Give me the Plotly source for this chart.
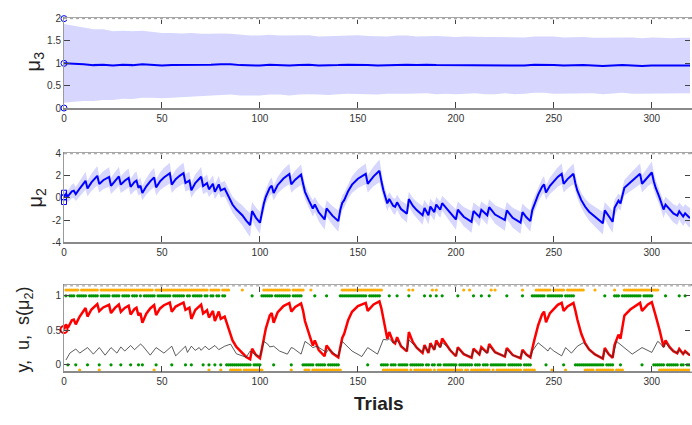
import plotly.graph_objects as go
import numpy as np

# ---------------- data ----------------
x_ticks = [0, 50, 100, 150, 200, 250, 300]

# inputs u (green) and responses y (orange), trials 1..320
u_str = ("1011101111" "1011111011" "1110111101" "1110111010" "1111110111"
         "1111011111" "1011011111" "0110110110" "1100000000" "0000010000"
         "1111110111" "1111101111" "1000000100" "0001000000" "1111111111"
         "1111011111" "1000010001" "0000010000" "0001001001" "0010000000"
         "1000000010" "0010001000" "0000010000" "0001000011" "1111101111"
         "1111011111" "0000000000" "0000010000" "1110111111" "1111011111"
         "0000001000" "0001001000")
y_str = ("1111111011" "1111111011" "1111111111" "1111111111" "1111101111"
         "1111111111" "1111111111" "1110111110" "1111000000" "1000000000"
         "0111111111" "1111101111" "1100010000" "0000000000" "0111111111"
         "1111111111" "1100000000" "0000010100" "0000000101" "0000000000"
         "0001001000" "0000000101" "0000000000" "0001000000" "1111111101"
         "1111101111" "1111100000" "1000000000" "1000011111" "1111111111"
         "1110000000" "0000000000")
u_vals = [int(c) for c in u_str]
y_vals = [int(c) for c in y_str]
trials = list(range(1, len(u_vals) + 1))
assert len(u_vals) == 320 and len(y_vals) == 320

# mu3 trajectory
mu3_trial = [0, 2, 5, 10, 15, 20, 25, 30, 35, 40, 45, 50, 55, 60, 65, 70, 75, 80, 85, 90,
             95, 100, 105, 110, 115, 120, 125, 130, 135, 140, 145, 150, 155, 160, 165,
             170, 175, 180, 185, 190, 195, 200, 205, 210, 215, 220, 225, 230, 235, 240,
             245, 250, 255, 260, 265, 270, 275, 280, 285, 290, 295, 300, 305, 310, 315, 320]
mu3_mean = [1.0, 1.0, 0.99, 0.98, 0.96, 0.97, 0.95, 0.97, 0.96, 0.98, 0.97, 0.95, 0.96, 0.96,
            0.97, 0.96, 0.97, 0.98, 0.98, 0.96, 0.95, 0.95, 0.97, 0.96, 0.95, 0.96, 0.97, 0.95,
            0.95, 0.96, 0.97, 0.97, 0.96, 0.95, 0.96, 0.97, 0.97, 0.96, 0.97, 0.96, 0.96, 0.95,
            0.96, 0.96, 0.95, 0.95, 0.96, 0.95, 0.95, 0.97, 0.97, 0.96, 0.95, 0.96, 0.96, 0.95,
            0.94, 0.95, 0.96, 0.95, 0.94, 0.95, 0.95, 0.94, 0.95, 0.95]
mu3_sd = [0.88, 0.87, 0.85, 0.82, 0.80, 0.79, 0.77, 0.76, 0.76, 0.75, 0.74, 0.73, 0.72, 0.71,
          0.71, 0.70, 0.69, 0.69, 0.68, 0.68, 0.67, 0.67, 0.67, 0.66, 0.67, 0.66, 0.66, 0.65,
          0.66, 0.65, 0.65, 0.66, 0.65, 0.65, 0.64, 0.65, 0.65, 0.64, 0.64, 0.65, 0.64, 0.64,
          0.64, 0.63, 0.64, 0.64, 0.63, 0.64, 0.63, 0.63, 0.63, 0.64, 0.63, 0.63, 0.63, 0.62,
          0.63, 0.63, 0.62, 0.63, 0.62, 0.63, 0.62, 0.62, 0.62, 0.62]
mu3_prior = [0, 1.0, 1.0]  # trial, mean, sd

# mu2 trajectory
mu2_trial = [0, 1, 2, 4, 5, 6, 8, 10, 11, 12, 14, 17, 18, 20, 23, 24, 26, 28, 29, 31, 33, 34,
             36, 37, 38, 39, 40, 42, 44, 46, 47, 49, 51, 54, 55, 57, 59, 61, 62, 64, 65, 67, 70,
             71, 73, 74, 76, 77, 79, 80, 82, 84, 86, 88, 91, 93, 95, 96, 98, 100, 101, 102,
             103, 105, 106, 107, 109, 112, 115, 116, 118, 121, 122, 123, 125, 127, 128, 130,
             133, 134, 137, 140, 141, 142, 143, 145, 147, 150, 154, 155, 158, 161, 162, 163,
             165, 166, 168, 169, 170, 172, 175, 176, 178, 180, 183, 184, 186, 187, 189, 190,
             192, 193, 195, 197, 200, 201, 204, 208, 209, 212, 213, 216, 217, 220, 225, 226,
             229, 233, 234, 236, 238, 239, 240, 242, 244, 245, 246, 248, 250, 252, 254, 255,
             257, 260, 261, 262, 264, 266, 268, 271, 275, 276, 278, 280, 281, 282, 283, 284,
             285, 286, 289, 292, 294, 295, 298, 300, 301, 302, 304, 306, 307, 309, 311, 313,
             314, 316, 317, 319, 320]
mu2_mean = [0.05, 0.35, 0.15, 0.6, 0.65, 0.35, 0.85, 1.3, 1.55, 0.85, 1.4, 2.0, 1.25, 1.6, 1.9,
            1.1, 1.55, 1.95, 1.2, 1.55, 1.8, 1.0, 1.45, 1.57, 0.92, 1.1, 0.45, 1.05, 1.5, 1.86,
            0.95, 1.5, 1.85, 2.24, 1.2, 1.7, 2.0, 2.24, 1.36, 1.57, 0.69, 1.35, 1.92, 1.07, 1.33,
            0.78, 1.28, 0.55, 1.22, 0.69, 0.84, 0.1, -0.6, -1.05, -1.57, -2.05, -2.45, -1.19,
            -1.8, -2.24, -1.2, -0.5, 0.1, 0.92, 1.1, 0.45, 1.15, 1.75, 2.16, 1.22, 1.65, 2.1,
            1.3, 0.55, -0.25, -0.95, -0.6, -1.3, -1.95, -0.95, -1.6, -2.1, -1.1, -0.45, -0.2,
            0.6, 1.2, 1.74, 2.18, 1.28, 1.95, 2.45, 1.5, 0.7, -0.5, -0.1, -0.7, -0.8, -0.4,
            -1.0, -1.42, -0.1, -0.7, -1.1, -1.57, -0.92, -1.57, -0.78, -1.28, -0.6, -1.07,
            -0.48, -0.9, -1.3, -1.95, -1.07, -1.7, -2.16, -1.19, -1.72, -1.07, -1.57, -0.84,
            -1.5, -2.0, -1.13, -1.8, -2.24, -1.28, -1.75, -2.1, -1.1, -0.6, 0.3, 1.0, 1.22,
            0.48, 1.1, 1.5, 1.9, 2.18, 1.28, 1.7, 2.18, 1.3, 0.65, -0.2, -0.8, -1.25, -1.72,
            -2.3, -1.13, -1.7, -2.16, -0.9, -0.55, -0.25, -0.5, 0.3, 0.92, 1.4, 1.85, 2.18,
            1.28, 1.95, 2.3, 1.5, 0.9, 0.0, -1.05, -0.6, -1.05, -1.4, -1.6, -1.2, -1.68, -1.4,
            -1.75, -1.8]
mu2_sd = [0.45, 0.5, 0.55, 0.62, 0.66, 0.63, 0.68, 0.76, 0.82, 0.7, 0.78, 0.88, 0.76, 0.82,
          0.88, 0.74, 0.82, 0.88, 0.75, 0.82, 0.86, 0.73, 0.8, 0.82, 0.71, 0.74, 0.66, 0.74,
          0.82, 0.88, 0.72, 0.81, 0.88, 0.94, 0.75, 0.84, 0.9, 0.94, 0.78, 0.82, 0.68, 0.78,
          0.88, 0.74, 0.78, 0.7, 0.77, 0.68, 0.76, 0.68, 0.7, 0.68, 0.73, 0.8, 0.9, 0.98, 1.08,
          0.83, 0.93, 1.0, 0.8, 0.7, 0.66, 0.7, 0.74, 0.66, 0.75, 0.85, 0.93, 0.76, 0.84, 0.93,
          0.78, 0.68, 0.66, 0.74, 0.68, 0.8, 0.92, 0.74, 0.86, 0.96, 0.76, 0.68, 0.66, 0.68,
          0.76, 0.85, 0.94, 0.78, 0.9, 1.03, 0.83, 0.7, 0.68, 0.64, 0.7, 0.72, 0.68, 0.74,
          0.82, 0.66, 0.71, 0.76, 0.85, 0.73, 0.84, 0.71, 0.78, 0.69, 0.75, 0.68, 0.73, 0.8,
          0.92, 0.75, 0.87, 0.98, 0.77, 0.87, 0.75, 0.85, 0.72, 0.83, 0.96, 0.76, 0.9, 1.0,
          0.78, 0.88, 0.96, 0.76, 0.69, 0.65, 0.73, 0.76, 0.66, 0.74, 0.82, 0.88, 0.94, 0.78,
          0.85, 0.94, 0.78, 0.69, 0.66, 0.72, 0.79, 0.88, 1.02, 0.76, 0.88, 0.98, 0.74, 0.69,
          0.66, 0.68, 0.65, 0.71, 0.8, 0.88, 0.94, 0.78, 0.9, 1.0, 0.83, 0.72, 0.68, 0.76,
          0.7, 0.76, 0.82, 0.86, 0.78, 0.87, 0.82, 0.88, 0.89]
mu2_prior = [0, 0.05, 0.42]  # trial, mean, sd
assert len(mu2_trial) == len(mu2_mean) == len(mu2_sd)
assert len(mu3_trial) == len(mu3_mean) == len(mu3_sd)

# learning-rate trace (black line)
lr_trial = [1, 3, 6, 8, 12, 15, 18, 21, 24, 27, 29, 31, 34, 36, 39, 40, 44, 47, 51, 55, 57, 62,
            63, 65, 67, 69, 70, 72, 74, 77, 79, 82, 85, 88, 93, 95, 97, 100, 102, 104, 105,
            107, 110, 114, 116, 117, 121, 123, 125, 127, 129, 134, 135, 140, 142, 147, 152,
            155, 160, 163, 165, 166, 168, 170, 172, 175, 176, 178, 180, 183, 184, 186, 187,
            189, 190, 192, 193, 195, 197, 200, 201, 204, 208, 209, 212, 213, 216, 217, 220,
            225, 226, 229, 233, 234, 236, 238, 239, 240, 242, 245, 247, 248, 250, 254, 256,
            259, 262, 265, 266, 268, 271, 275, 276, 278, 280, 282, 285, 290, 295, 300, 303,
            304, 306, 307, 309, 311, 313, 314, 316, 317, 319, 320]
lr_vals = [0.07, 0.17, 0.23, 0.17, 0.25, 0.155, 0.25, 0.14, 0.25, 0.17, 0.26, 0.2, 0.28, 0.22,
           0.3, 0.28, 0.14, 0.25, 0.17, 0.27, 0.13, 0.27, 0.18, 0.27, 0.21, 0.25, 0.21, 0.27,
           0.22, 0.28, 0.22, 0.27, 0.3, 0.16, 0.11, 0.2, 0.16, 0.12, 0.34, 0.3, 0.26, 0.27,
           0.2, 0.155, 0.25, 0.24, 0.155, 0.34, 0.3, 0.25, 0.27, 0.18, 0.225, 0.12, 0.34, 0.2,
           0.12, 0.25, 0.155, 0.37, 0.36, 0.38, 0.32, 0.35, 0.28, 0.2, 0.36, 0.3, 0.25, 0.18,
           0.27, 0.18, 0.29, 0.22, 0.31, 0.25, 0.32, 0.28, 0.22, 0.13, 0.24, 0.16, 0.11, 0.22,
           0.15, 0.24, 0.17, 0.27, 0.18, 0.12, 0.22, 0.14, 0.1, 0.2, 0.14, 0.11, 0.2, 0.24,
           0.32, 0.25, 0.2, 0.25, 0.2, 0.13, 0.25, 0.17, 0.27, 0.32, 0.3, 0.22, 0.15, 0.09,
           0.22, 0.15, 0.11, 0.34, 0.27, 0.155, 0.25, 0.18, 0.34, 0.32, 0.25, 0.32, 0.25, 0.2,
           0.17, 0.22, 0.16, 0.19, 0.15, 0.15]
assert len(lr_trial) == len(lr_vals)

# ---------------- styling ----------------
BLUE = "#0000ff"
SHADE = "rgb(214,214,255)"
GREEN = "rgb(0,150,0)"
ORANGE = "rgb(255,172,0)"
FONT = "Liberation Sans, Arial, sans-serif"
W, H = 692, 425
L, R = 64, 1

fig = go.Figure()

# panel 1: mu3
m3 = np.array(mu3_mean); s3 = np.array(mu3_sd)
fig.add_trace(go.Scatter(x=mu3_trial + mu3_trial[::-1],
                         y=list(m3 + s3) + list((m3 - s3)[::-1]),
                         fill="toself", fillcolor=SHADE, line=dict(width=0),
                         mode="lines", hoverinfo="skip", xaxis="x", yaxis="y"))
fig.add_trace(go.Scatter(x=mu3_trial, y=mu3_mean, mode="lines",
                         line=dict(color=BLUE, width=2), xaxis="x", yaxis="y"))
fig.add_trace(go.Scatter(x=[mu3_prior[0]] * 3,
                         y=[mu3_prior[1] + mu3_prior[2], mu3_prior[1], mu3_prior[1] - mu3_prior[2]],
                         mode="markers", cliponaxis=False,
                         marker=dict(symbol="circle-open", size=6, color=BLUE, line=dict(width=1)),
                         xaxis="x", yaxis="y"))

# panel 2: mu2
m2 = np.array(mu2_mean); s2 = np.array(mu2_sd)
fig.add_trace(go.Scatter(x=mu2_trial + mu2_trial[::-1],
                         y=list(m2 + s2) + list((m2 - s2)[::-1]),
                         fill="toself", fillcolor=SHADE, line=dict(width=0),
                         mode="lines", hoverinfo="skip", xaxis="x2", yaxis="y2"))
fig.add_trace(go.Scatter(x=mu2_trial, y=mu2_mean, mode="lines",
                         line=dict(color=BLUE, width=2), xaxis="x2", yaxis="y2"))
fig.add_trace(go.Scatter(x=[mu2_prior[0]] * 3,
                         y=[mu2_prior[1] + mu2_prior[2], mu2_prior[1], mu2_prior[1] - mu2_prior[2]],
                         mode="markers", cliponaxis=False,
                         marker=dict(symbol="square-open", size=5, color=BLUE, line=dict(width=1)),
                         xaxis="x2", yaxis="y2"))

# panel 3: y, u, s(mu2)
s_mu2 = 1.0 / (1.0 + np.exp(-m2))
fig.add_trace(go.Scatter(x=mu2_trial, y=s_mu2, mode="lines",
                         line=dict(color="#ff0000", width=2.5), xaxis="x3", yaxis="y3"))
fig.add_trace(go.Scatter(x=lr_trial, y=lr_vals, mode="lines",
                         line=dict(color="#333333", width=0.8), xaxis="x3", yaxis="y3"))
fig.add_trace(go.Scatter(x=[0], y=[1.0 / (1.0 + np.exp(-mu2_prior[1]))], mode="markers",
                         cliponaxis=False,
                         marker=dict(symbol="circle-open", size=7, color="#ff0000",
                                     line=dict(width=2)),
                         xaxis="x3", yaxis="y3"))
u_pos = [1.0 if v == 1 else 0.0 for v in u_vals]
y_pos = [1.085 if v == 1 else -0.075 for v in y_vals]
fig.add_trace(go.Scatter(x=trials, y=u_pos, mode="markers",
                         marker=dict(symbol="circle", size=3.2, color=GREEN, line=dict(width=0)),
                         xaxis="x3", yaxis="y3"))
fig.add_trace(go.Scatter(x=trials, y=y_pos, mode="markers", cliponaxis=False,
                         marker=dict(symbol="circle", size=3.2, color=ORANGE, line=dict(width=0)),
                         xaxis="x3", yaxis="y3"))

def dom(top_px, bot_px):
    return [1 - bot_px / H, 1 - top_px / H]

tickfont = dict(family=FONT, size=10, color="#333333")
xbase = dict(range=[0, 320], tickvals=x_ticks, ticks="inside", ticklen=6, tickcolor="#444",
             tickwidth=1, showline=True, mirror="ticks", linecolor="#8a8a8a", linewidth=1.5,
             showgrid=False, zeroline=False, tickfont=tickfont, domain=[0, 1], fixedrange=True)
ybase = dict(ticks="inside", ticklen=6, tickcolor="#444", tickwidth=1, showline=True,
             mirror="ticks", linecolor="#9a9a9a", linewidth=1, showgrid=False, zeroline=False,
             tickfont=tickfont, fixedrange=True)

panels = [
    ("", dom(13, 105), [0, 2], [0, 0.5, 1, 1.5, 2], ["0", "0.5", "1", "1.5", "2"]),
    ("2", dom(152, 243), [-4, 4], [-4, -2, 0, 2, 4], ["-4", "-2", "0", "2", "4"]),
    ("3", dom(288, 376), [-0.095, 1.145], [0, 0.5, 1], ["0", "0.5", "1"]),
]
layout = dict(width=W, height=H, margin=dict(l=L, r=R, t=0, b=0),
              paper_bgcolor="white", plot_bgcolor="white", showlegend=False)
shapes = []
for k, d, yr, tv, tt in panels:
    layout["xaxis" + k] = dict(xbase, anchor="y" + k)
    layout["yaxis" + k] = dict(ybase, domain=d, range=yr, tickvals=tv, ticktext=tt,
                               anchor="x" + k)
    xr, yrf = "x" + k + " domain", "y" + k + " domain"
    # hide mirrored solid lines, keep the mirrored ticks; dotted top border
    shapes.append(dict(type="line", xref=xr, yref=yrf, x0=0, x1=1, y0=1, y1=1,
                       layer="above", line=dict(color="white", width=2)))
    shapes.append(dict(type="line", xref=xr, yref=yrf, x0=1, x1=1, y0=0, y1=1,
                       layer="above", line=dict(color="white", width=2)))
    shapes.append(dict(type="line", xref=xr, yref=yrf, x0=0, x1=1, y0=1, y1=1,
                       layer="above", line=dict(color="#9a9a9a", width=1, dash="dot")))
layout["shapes"] = shapes

def px_x(px):
    return (px - L) / (W - L - R)

def px_y(py):
    return 1 - py / H

ann = [
    dict(text="μ<sub>3</sub>", x=px_x(34), y=px_y(57), font=dict(family=FONT, size=20, color="#222")),
    dict(text="μ<sub>2</sub>", x=px_x(36), y=px_y(197), font=dict(family=FONT, size=20, color="#222")),
    dict(text="y,  u,  s(μ<sub>2</sub>)", x=px_x(25), y=px_y(333),
         font=dict(family=FONT, size=18, color="#222")),
]
annotations = []
for a in ann:
    annotations.append(dict(a, xref="paper", yref="paper", textangle=-90, showarrow=False,
                            xanchor="center", yanchor="middle"))
annotations.append(dict(text="<b>Trials</b>", x=px_x(379), y=px_y(409), xref="paper",
                        yref="paper", showarrow=False, xanchor="center", yanchor="middle",
                        font=dict(family=FONT, size=19, color="#222")))
layout["annotations"] = annotations

fig.update_layout(**layout)
fig.write_html("out.html", config={"displayModeBar": False},
               post_script="document.body.style.margin='0px';document.body.style.overflow='hidden';")
